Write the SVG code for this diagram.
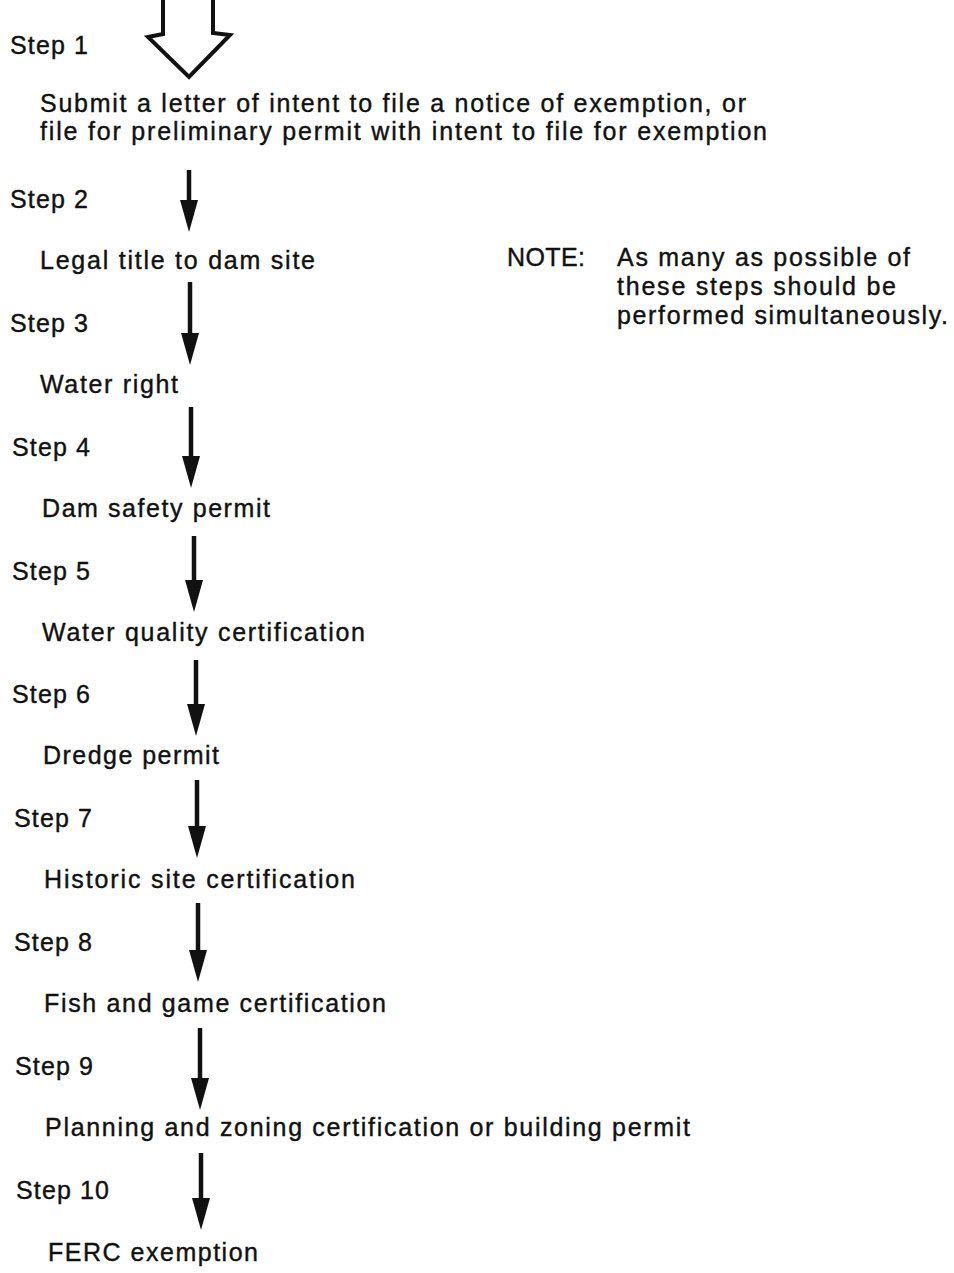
<svg xmlns="http://www.w3.org/2000/svg" width="954" height="1273" viewBox="0 0 954 1273">
<defs>
<style>
text{font-family:"Liberation Sans",Arial,sans-serif;font-size:25px;fill:#111;stroke:#111;stroke-width:0.4;}
.sh{stroke:#111;stroke-width:4.5;fill:none;}
</style>
<marker id="ah" viewBox="0 0 32 18" refX="12" refY="9" markerWidth="32" markerHeight="18" markerUnits="userSpaceOnUse" orient="auto">
<path d="M0,0 L32,9 L0,18 z" fill="#111"/>
</marker>
</defs>
<rect width="954" height="1273" fill="#fff"/>
<g id="connectors">
<path id="start-arrow" d="M163,0 L163,34 L148,37 L189,77 L230,35 L213,33 L213,0" fill="none" stroke="#111" stroke-width="4" stroke-linejoin="miter"/>
<line class="sh" x1="189" y1="170" x2="189" y2="212" marker-end="url(#ah)"/>
<line class="sh" x1="190" y1="282" x2="190" y2="345" marker-end="url(#ah)"/>
<line class="sh" x1="191" y1="407" x2="191" y2="468" marker-end="url(#ah)"/>
<line class="sh" x1="194" y1="536" x2="194" y2="592" marker-end="url(#ah)"/>
<line class="sh" x1="196" y1="660" x2="196" y2="716" marker-end="url(#ah)"/>
<line class="sh" x1="197" y1="780" x2="197" y2="838" marker-end="url(#ah)"/>
<line class="sh" x1="198" y1="903" x2="198" y2="962" marker-end="url(#ah)"/>
<line class="sh" x1="200" y1="1028" x2="200" y2="1090" marker-end="url(#ah)"/>
<line class="sh" x1="201" y1="1153" x2="201" y2="1210" marker-end="url(#ah)"/>
</g>
<g id="labels">
<text x="10" y="54" textLength="78" lengthAdjust="spacing">Step 1</text>
<text x="10" y="208" textLength="78" lengthAdjust="spacing">Step 2</text>
<text x="10" y="332" textLength="78" lengthAdjust="spacing">Step 3</text>
<text x="12" y="456" textLength="78" lengthAdjust="spacing">Step 4</text>
<text x="12" y="580" textLength="78" lengthAdjust="spacing">Step 5</text>
<text x="12" y="703" textLength="78" lengthAdjust="spacing">Step 6</text>
<text x="14" y="827" textLength="78" lengthAdjust="spacing">Step 7</text>
<text x="14" y="951" textLength="78" lengthAdjust="spacing">Step 8</text>
<text x="15" y="1075" textLength="78" lengthAdjust="spacing">Step 9</text>
<text x="16" y="1199" textLength="93" lengthAdjust="spacing">Step 10</text>
</g>
<g id="node1">
<text x="40" y="112" textLength="706" lengthAdjust="spacing">Submit a letter of intent to file a notice of exemption, or</text>
<text x="40" y="140" textLength="727" lengthAdjust="spacing">file for preliminary permit with intent to file for exemption</text>
</g>
<g id="node2"><text x="40" y="269" textLength="275" lengthAdjust="spacing">Legal title to dam site</text></g>
<g id="note">
<text x="507" y="266" textLength="78" lengthAdjust="spacing">NOTE:</text>
<text x="617" y="266" textLength="293" lengthAdjust="spacing">As many as possible of</text>
<text x="617" y="295" textLength="279" lengthAdjust="spacing">these steps should be</text>
<text x="617" y="324" textLength="331" lengthAdjust="spacing">performed simultaneously.</text>
</g>
<g id="node3"><text x="40" y="393" textLength="138" lengthAdjust="spacing">Water right</text></g>
<g id="node4"><text x="42" y="517" textLength="228" lengthAdjust="spacing">Dam safety permit</text></g>
<g id="node5"><text x="42" y="641" textLength="323" lengthAdjust="spacing">Water quality certification</text></g>
<g id="node6"><text x="43" y="764" textLength="176" lengthAdjust="spacing">Dredge permit</text></g>
<g id="node7"><text x="44" y="888" textLength="311" lengthAdjust="spacing">Historic site certification</text></g>
<g id="node8"><text x="44" y="1012" textLength="342" lengthAdjust="spacing">Fish and game certification</text></g>
<g id="node9"><text x="45" y="1136" textLength="645" lengthAdjust="spacing">Planning and zoning certification or building permit</text></g>
<g id="node10"><text x="48" y="1261" textLength="210" lengthAdjust="spacing">FERC exemption</text></g>
</svg>
